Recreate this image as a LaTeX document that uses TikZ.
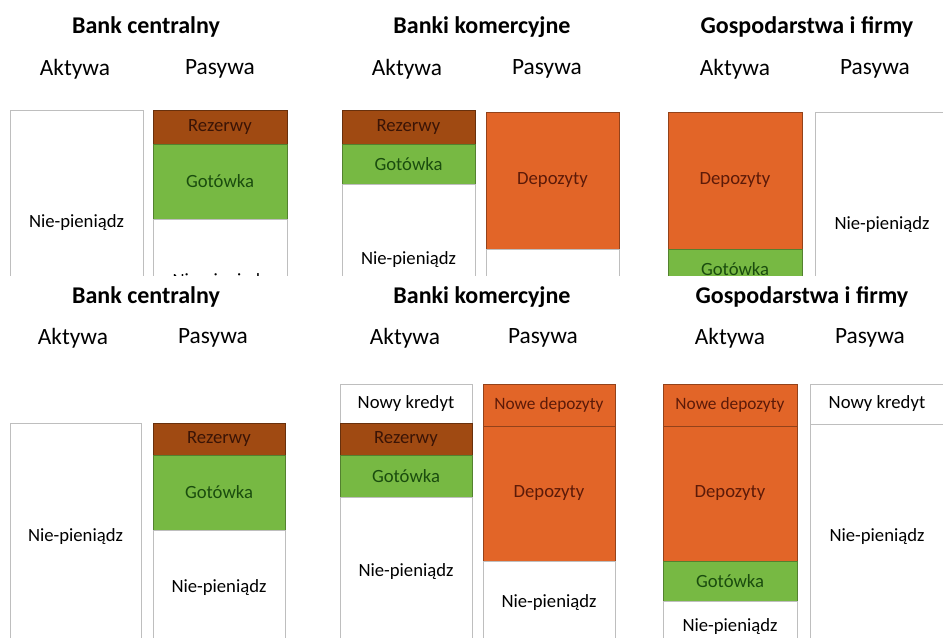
\documentclass[tikz,border=0pt]{standalone}
\usepackage{fontspec}
\setmainfont{Carlito}
\usetikzlibrary{positioning}
\definecolor{rezfill}{RGB}{160,74,18}
\definecolor{rezink}{RGB}{58,20,6}
\definecolor{gotfill}{RGB}{119,185,67}
\definecolor{gotink}{RGB}{26,76,14}
\definecolor{depfill}{RGB}{226,101,40}
\definecolor{depink}{RGB}{92,26,8}
\definecolor{edgegray}{RGB}{190,190,190}

\begin{document}
\begin{tikzpicture}[x=0.75pt,y=-0.75pt,
    bw/.style={minimum width=#1*0.75pt},
    bh/.style={minimum height=#1*0.75pt},
    part/.style={rectangle,inner sep=0pt,outer sep=0pt,line width=0.7pt,
      font=\fontsize{14}{16}\selectfont},
    plain/.style={part,draw=edgegray,fill=white,text=black},
    rez/.style={part,draw=rezfill!65!black,fill=rezfill,text=rezink},
    got/.style={part,draw=gotfill!70!black,fill=gotfill,text=gotink},
    dep/.style={part,draw=depfill!65!black,fill=depfill,text=depink},
    title/.style={font=\fontsize{18}{20}\selectfont\bfseries},
    head/.style={font=\fontsize{17.5}{20}\selectfont}]
  \useasboundingbox (0,0) rectangle (943,637);
  \clip (0,0) rectangle (943,637);

  \begin{scope}
    \clip (0,0) rectangle (943,275);
    \node[title] (tcbT) at (146,27) {Bank centralny};
    \node[title] (tbkT) at (482,27) {Banki komercyjne};
    \node[title] (tgfT) at (807,27) {Gospodarstwa i firmy};
    \node[head] (tcbA) at (75,69) {Aktywa};
    \node[head] (tcbP) at (220,69) {Pasywa};
    \node[head] (tbkA) at (407,69) {Aktywa};
    \node[head] (tbkP) at (547,69) {Pasywa};
    \node[head] (tgfA) at (735,69) {Aktywa};
    \node[head] (tgfP) at (875,69) {Pasywa};

    \node[plain,bw=133,bh=226,anchor=north west] (tcbA1) at (10,110) {Nie-pieniądz};
    \node[rez,bw=134,bh=34,anchor=north west] (tcbP1) at (153,110) {Rezerwy};
    \node[got,bw=134,bh=75,below=0pt of tcbP1] (tcbP2) {Gotówka};
    \node[plain,bw=134,bh=126,below=0pt of tcbP2] (tcbP3) {Nie-pieniądz};

    \node[rez,bw=133,bh=34,anchor=north west] (tbkA1) at (342,110) {Rezerwy};
    \node[got,bw=133,bh=40,below=0pt of tbkA1] (tbkA2) {Gotówka};
    \node[plain,bw=133,bh=152,below=0pt of tbkA2] (tbkA3) {Nie-pieniądz};
    \node[dep,bw=133,bh=137,anchor=north west] (tbkP1) at (486,112) {Depozyty};
    \node[plain,bw=133,bh=80,below=0pt of tbkP1] (tbkP2) {};

    \node[dep,bw=134,bh=137,anchor=north west] (tgfA1) at (668,112) {Depozyty};
    \node[got,bw=134,bh=41,below=0pt of tgfA1] (tgfA2) {Gotówka};
    \node[plain,bw=134,bh=226,anchor=north west] (tgfP1) at (815,112) {Nie-pieniądz};
  \end{scope}

  \node[title] (bcbT) at (146,297) {Bank centralny};
  \node[title] (bbkT) at (482,297) {Banki komercyjne};
  \node[title] (bgfT) at (802,297) {Gospodarstwa i firmy};
  \node[head] (bcbA) at (73,338) {Aktywa};
  \node[head] (bcbP) at (213,338) {Pasywa};
  \node[head] (bbkA) at (405,338) {Aktywa};
  \node[head] (bbkP) at (543,338) {Pasywa};
  \node[head] (bgfA) at (730,338) {Aktywa};
  \node[head] (bgfP) at (870,338) {Pasywa};

  \node[plain,bw=131,bh=228,anchor=north west] (bcbA1) at (10,423) {Nie-pieniądz};
  \node[rez,bw=132,bh=32,anchor=north west] (bcbP1) at (153,423) {Rezerwy};
  \node[got,bw=132,bh=75,below=0pt of bcbP1] (bcbP2) {Gotówka};
  \node[plain,bw=132,bh=116,below=0pt of bcbP2] (bcbP3) {Nie-pieniądz};

  \node[plain,bw=132,bh=39,anchor=north west] (bbkA1) at (340,384) {Nowy kredyt};
  \node[rez,bw=132,bh=32,below=0pt of bbkA1] (bbkA2) {Rezerwy};
  \node[got,bw=132,bh=42,below=0pt of bbkA2] (bbkA3) {Gotówka};
  \node[plain,bw=132,bh=150,below=0pt of bbkA3] (bbkA4) {Nie-pieniądz};
  \node[dep,bw=132,bh=42,anchor=north west,font=\fontsize{13}{15}\selectfont] (bbkP1) at (483,384) {Nowe depozyty};
  \node[dep,bw=132,bh=135,below=0pt of bbkP1] (bbkP2) {Depozyty};
  \node[plain,bw=132,bh=84,below=0pt of bbkP2] (bbkP3) {Nie-pieniądz};

  \node[dep,bw=134,bh=42,anchor=north west,font=\fontsize{13}{15}\selectfont] (bgfA1) at (663,384) {Nowe depozyty};
  \node[dep,bw=134,bh=135,below=0pt of bgfA1] (bgfA2) {Depozyty};
  \node[got,bw=134,bh=40,below=0pt of bgfA2] (bgfA3) {Gotówka};
  \node[plain,bw=134,bh=52,below=0pt of bgfA3] (bgfA4) {Nie-pieniądz};
  \node[plain,bw=134,bh=40,anchor=north west] (bgfP1) at (810,384) {Nowy kredyt};
  \node[plain,bw=134,bh=226,below=0pt of bgfP1] (bgfP2) {Nie-pieniądz};
\end{tikzpicture}
\end{document}
